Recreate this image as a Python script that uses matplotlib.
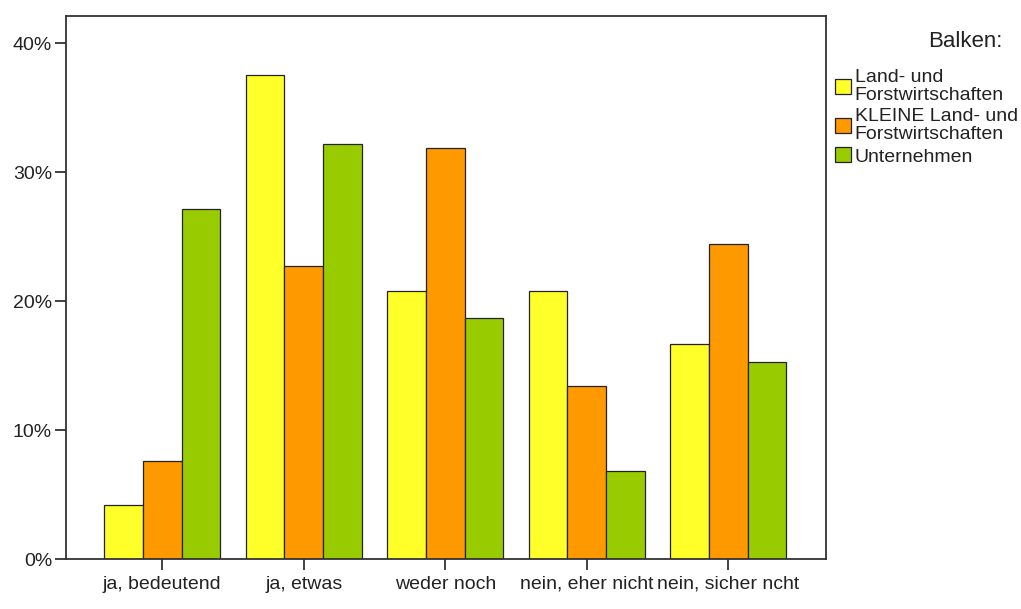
import numpy as np
import matplotlib.pyplot as plt
from matplotlib.ticker import FuncFormatter

plt.rcParams['font.family'] = ['Liberation Sans', 'DejaVu Sans']

# answer categories and percentages per group
categories = ['ja, bedeutend', 'ja, etwas', 'weder noch', 'nein, eher nicht', 'nein, sicher ncht']
series_names = ['Land- und\nForstwirtschaften', 'KLEINE Land- und\nForstwirtschaften', 'Unternehmen']
land_forst = [4.2, 37.5, 20.8, 20.8, 16.7]
kleine_land_forst = [7.6, 22.7, 31.9, 13.4, 24.4]
unternehmen = [27.1, 32.2, 18.7, 6.8, 15.3]
colors = ['#ffff2a', '#ff9900', '#99cc00']

fig = plt.figure(figsize=(10.21, 6.09), dpi=100)
ax = fig.add_axes([0.0646, 0.0821, 0.7444, 0.8916])

x = np.arange(len(categories))
width = 0.273
for i, vals in enumerate([land_forst, kleine_land_forst, unternehmen]):
    ax.bar(x + (i - 1) * width, vals, width, color=colors[i], edgecolor='#222222',
           linewidth=0.9, label=series_names[i], zorder=2)

ax.set_xlim(-0.68, 4.69)
ax.set_ylim(0, 42.1)
ax.set_yticks([0, 10, 20, 30, 40])
ax.yaxis.set_major_formatter(FuncFormatter(lambda v, p: f'{v:.0f}%'))
ax.set_xticks(x)
ax.set_xticklabels(categories)

for s in ax.spines.values():
    s.set_color('#333333')
    s.set_linewidth(1.3)
ax.tick_params(axis='both', length=8, width=1.3, color='#333333', labelsize=14,
               labelcolor='#222222')
ax.tick_params(axis='y', pad=2)
ax.tick_params(axis='x', pad=4)

# legend title as separate text, right aligned
fig.text(0.982, 0.932, 'Balken:', ha='right', va='center', fontsize=16, color='#222222')

leg = ax.legend(loc='upper right', bbox_to_anchor=(0.997, 0.887), bbox_transform=fig.transFigure,
                fontsize=14, frameon=False, borderpad=0,
                handlelength=0.8, handleheight=0.8, handletextpad=0.2, labelspacing=0.22,
                borderaxespad=0)
for t in leg.get_texts():
    t.set_linespacing(1.08)
    t.set_color('#222222')

plt.savefig('out.png', dpi=100)
